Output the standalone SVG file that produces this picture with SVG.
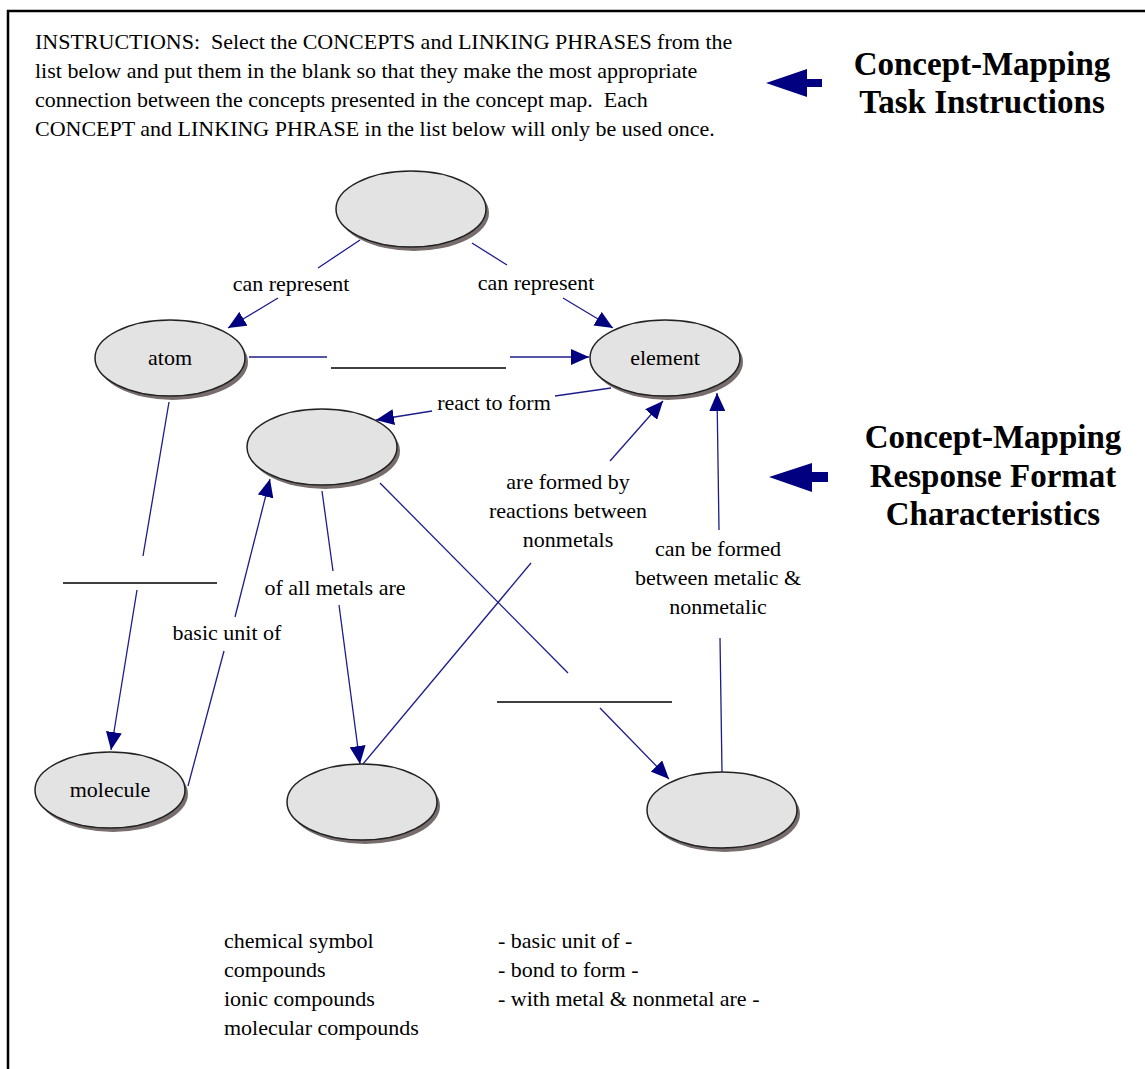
<svg xmlns="http://www.w3.org/2000/svg" width="1145" height="1069" viewBox="0 0 1145 1069">
<defs>
<style>
.t{font-family:"Liberation Serif","Times New Roman",serif;font-size:22px;font-weight:normal;fill:#000}
.h{font-family:"Liberation Serif","Times New Roman",serif;font-size:33px;font-weight:bold;fill:#000;text-anchor:middle}
.c{text-anchor:middle}
.ln{stroke:#1c1c8c;stroke-width:1.3;fill:none}
.bl{stroke:#000;stroke-width:1.5}
.sh{fill:#776d6d}
.el{fill:#e4e3e3;stroke:#222;stroke-width:1.5}
.ar{fill:#000080}
</style>
<marker id="arr" markerUnits="userSpaceOnUse" markerWidth="18" markerHeight="16" refX="18" refY="8" orient="auto" viewBox="0 0 18 16">
<path d="M0,0 L18,8 L0,16 z" fill="#000080"/>
</marker>
</defs>
<rect width="1145" height="1069" fill="#fff"/>
<path d="M8,1069 L8,11 L1145,11" fill="none" stroke="#000" stroke-width="2.5"/>

<g id="instructions">
<text class="t" x="35" y="49">INSTRUCTIONS:&#160; Select the CONCEPTS and LINKING PHRASES from the</text>
<text class="t" x="35" y="78">list below and put them in the blank so that they make the most appropriate</text>
<text class="t" x="35" y="107">connection between the concepts presented in the concept map.&#160; Each</text>
<text class="t" x="35" y="136">CONCEPT and LINKING PHRASE in the list below will only be used once.</text>
</g>

<g id="heading-task">
<path class="ar" d="M766,83 L807,69 L807,79 L822,79 L822,87 L807,87 L807,97 z"/>
<text class="h" x="982" y="75">Concept-Mapping</text>
<text class="h" x="982" y="113">Task Instructions</text>
</g>

<g id="heading-response">
<path class="ar" d="M769,477 L812,463 L812,472 L828,472 L828,482 L812,482 L812,492 z"/>
<text class="h" x="993" y="448">Concept-Mapping</text>
<text class="h" x="993" y="487">Response Format</text>
<text class="h" x="993" y="525">Characteristics</text>
</g>

<g id="connectors">
<line class="ln" x1="360" y1="240" x2="318" y2="268"/>
<line class="ln" x1="278" y1="298" x2="228" y2="328" marker-end="url(#arr)"/>
<text class="t c" x="291" y="291">can represent</text>

<line class="ln" x1="472" y1="243" x2="507" y2="265"/>
<line class="ln" x1="563" y1="298" x2="613" y2="328" marker-end="url(#arr)"/>
<text class="t c" x="536" y="290">can represent</text>

<line class="ln" x1="249" y1="357" x2="327" y2="357"/>
<line class="bl" x1="331" y1="368" x2="506" y2="368"/>
<line class="ln" x1="510" y1="357" x2="589" y2="357" marker-end="url(#arr)"/>

<line class="ln" x1="611" y1="388" x2="555" y2="396"/>
<line class="ln" x1="432" y1="411" x2="376" y2="420" marker-end="url(#arr)"/>
<text class="t c" x="494" y="410">react to form</text>

<line class="ln" x1="169" y1="402" x2="143" y2="556"/>
<line class="bl" x1="63" y1="583" x2="217" y2="583"/>
<line class="ln" x1="137" y1="590" x2="111" y2="750" marker-end="url(#arr)"/>

<line class="ln" x1="188" y1="786" x2="224" y2="651"/>
<line class="ln" x1="235" y1="617" x2="270" y2="479" marker-end="url(#arr)"/>
<text class="t c" x="227" y="640">basic unit of</text>

<line class="ln" x1="322" y1="491" x2="333" y2="571"/>
<line class="ln" x1="339" y1="605" x2="360" y2="764" marker-end="url(#arr)"/>
<text class="t c" x="335" y="595">of all metals are</text>

<line class="ln" x1="380" y1="483" x2="568" y2="673"/>
<line class="bl" x1="497" y1="702" x2="672" y2="702"/>
<line class="ln" x1="600" y1="708" x2="669" y2="779" marker-end="url(#arr)"/>

<line class="ln" x1="363" y1="764" x2="531" y2="563"/>
<line class="ln" x1="610" y1="461" x2="663" y2="401" marker-end="url(#arr)"/>
<text class="t c" x="568" y="489">are formed by</text>
<text class="t c" x="568" y="518">reactions between</text>
<text class="t c" x="568" y="547">nonmetals</text>

<line class="ln" x1="722" y1="772" x2="720" y2="638"/>
<line class="ln" x1="719" y1="530" x2="717" y2="393" marker-end="url(#arr)"/>
<text class="t c" x="718" y="556">can be formed</text>
<text class="t c" x="718" y="585">between metalic &amp;</text>
<text class="t c" x="718" y="614">nonmetalic</text>
</g>

<g id="node-top">
<ellipse class="sh" cx="414" cy="213" rx="75" ry="38"/>
<ellipse class="el" cx="411" cy="209" rx="75" ry="38"/>
</g>
<g id="node-atom">
<ellipse class="sh" cx="173" cy="362" rx="75" ry="38"/>
<ellipse class="el" cx="170" cy="358" rx="75" ry="38"/>
<text class="t c" x="170" y="365">atom</text>
</g>
<g id="node-element">
<ellipse class="sh" cx="668" cy="362" rx="75" ry="38"/>
<ellipse class="el" cx="665" cy="358" rx="75" ry="38"/>
<text class="t c" x="665" y="365">element</text>
</g>
<g id="node-mid">
<ellipse class="sh" cx="325" cy="451" rx="75" ry="38"/>
<ellipse class="el" cx="322" cy="447" rx="75" ry="38"/>
</g>
<g id="node-molecule">
<ellipse class="sh" cx="113" cy="794" rx="75" ry="38"/>
<ellipse class="el" cx="110" cy="790" rx="75" ry="38"/>
<text class="t c" x="110" y="797">molecule</text>
</g>
<g id="node-bottom-mid">
<ellipse class="sh" cx="365" cy="806" rx="75" ry="38"/>
<ellipse class="el" cx="362" cy="802" rx="75" ry="38"/>
</g>
<g id="node-bottom-right">
<ellipse class="sh" cx="725" cy="814" rx="75" ry="38"/>
<ellipse class="el" cx="722" cy="810" rx="75" ry="38"/>
</g>

<g id="word-list">
<text class="t" x="224" y="948">chemical symbol</text>
<text class="t" x="224" y="977">compounds</text>
<text class="t" x="224" y="1006">ionic compounds</text>
<text class="t" x="224" y="1035">molecular compounds</text>
<text class="t" x="498" y="948">- basic unit of -</text>
<text class="t" x="498" y="977">- bond to form -</text>
<text class="t" x="498" y="1006">- with metal &amp; nonmetal are -</text>
</g>
</svg>
